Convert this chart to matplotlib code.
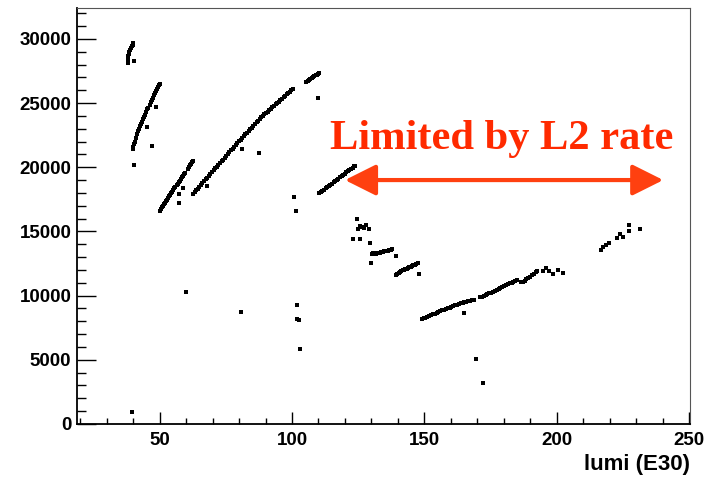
import numpy as np
import matplotlib.pyplot as plt
from matplotlib.ticker import MultipleLocator

# Data: L1 rate vs lumi (E30), one list pair per fill segment
xA = [38.0, 38.1, 38.2, 38.4, 38.6, 38.9, 39.2, 39.5, 39.8, 40.1]
yA = [28150, 28400, 28650, 28850, 29000, 29150, 29300, 29450, 29550, 29650]

xB = [39.8, 40.0, 40.3, 40.6, 41.0, 41.4, 41.8, 42.2, 42.6, 43.0, 43.4, 43.8, 44.2, 44.6,
      45.0, 45.4, 45.8, 46.2, 46.6, 47.0, 47.4, 47.8, 48.2, 48.6, 49.0, 49.4, 49.8, 50.1]
yB = [21450, 21600, 21800, 22000, 22300, 22550, 22800, 23000, 23200, 23400, 23550, 23750, 23950, 24100,
      24300, 24500, 24650, 24850, 25050, 25250, 25400, 25600, 25800, 25950, 26100, 26250, 26400, 26500]

xC = [50.0, 50.4, 50.8, 51.2, 51.6, 52.0, 52.4, 52.8, 53.2, 53.6, 54.0, 54.4, 54.8, 55.2, 55.6, 56.0,
      56.4, 56.8, 57.2, 57.6, 58.0, 58.4, 58.8, 59.2, 59.6, 60.6, 61.0, 61.4, 61.8, 62.2, 62.6]
yC = [16620, 16740, 16870, 16990, 17100, 17240, 17360, 17480, 17600, 17730, 17850, 17980, 18100, 18230, 18350, 18470,
      18600, 18720, 18850, 18960, 19100, 19210, 19330, 19460, 19580, 19890, 20020, 20140, 20260, 20390, 20510]

xD = [62.6, 63.2, 63.8, 64.4, 65.0, 65.6, 66.2, 66.8, 67.4, 68.0, 68.6, 69.2, 69.8, 70.4, 71.0, 71.6,
      72.2, 72.8, 73.4, 74.0, 74.6, 75.2, 75.8, 76.4, 77.0, 77.6, 78.2, 78.8, 79.4, 80.0, 80.6, 81.2,
      81.8, 82.4, 83.0, 83.6, 84.2, 84.8, 85.4, 86.0, 86.6, 87.2, 87.8, 88.4, 89.0, 89.6, 90.2, 90.8,
      91.4, 92.0, 92.6, 93.2, 93.8, 94.4, 95.0, 95.6, 96.2, 96.8, 97.4, 98.0, 98.6, 99.2, 99.8, 100.4]
yD = [17920, 18060, 18200, 18340, 18480, 18630, 18770, 18910, 19050, 19190, 19330, 19470, 19620, 19760, 19900, 20040,
      20180, 20320, 20460, 20600, 20750, 20890, 21030, 21170, 21310, 21450, 21590, 21730, 21870, 22010, 22150, 22280,
      22420, 22550, 22690, 22820, 22960, 23090, 23230, 23360, 23500, 23630, 23770, 23890, 24000, 24110, 24220, 24330,
      24440, 24560, 24670, 24780, 24890, 25000, 25110, 25220, 25330, 25440, 25560, 25670, 25780, 25890, 26000, 26110]

xE = [105.4, 105.9, 106.4, 106.9, 107.4, 107.9, 108.4, 108.9, 109.4, 109.9, 110.3]
yE = [26620, 26700, 26780, 26850, 26930, 27000, 27080, 27150, 27220, 27280, 27320]

xF = [110.3, 110.9, 111.5, 112.1, 112.7, 113.3, 113.9, 114.5, 115.1, 115.7, 116.3, 116.9,
      117.5, 118.1, 118.7, 119.3, 119.9, 120.5, 121.1, 121.7, 122.3, 122.9, 123.5, 123.9]
yF = [17970, 18060, 18160, 18250, 18350, 18450, 18540, 18640, 18730, 18830, 18920, 19020,
      19110, 19210, 19300, 19400, 19500, 19590, 19690, 19780, 19880, 19970, 20070, 20120]

xG = [124.5, 125.1, 125.8, 126.4, 127.1, 128.0, 128.9, 123.2, 125.7, 129.5, 130.5, 129.8,
      130.1, 130.7, 131.3, 131.9, 132.5, 133.1, 133.7, 134.3, 134.9, 135.5, 136.1, 136.7, 137.3, 137.9, 139.3]
yG = [15970, 15200, 15450, 15370, 15300, 15500, 15170, 14440, 14440, 14120, 13300, 12520,
      13240, 13320, 13280, 13240, 13300, 13350, 13380, 13400, 13450, 13480, 13510, 13560, 13590, 13610, 13090]

xH = [139.3, 139.8, 140.3, 140.8, 141.3, 141.8, 142.3, 142.8, 143.3, 143.8, 144.3, 144.8,
      145.3, 145.8, 146.3, 146.8, 147.5, 148.1]
yH = [11610, 11700, 11780, 11840, 11900, 11960, 12010, 12060, 12110, 12160, 12210, 12260,
      12300, 12350, 12400, 12440, 12520, 11690]

xI = [149.0, 149.7, 150.4, 151.1, 151.8, 152.5, 153.2, 153.9, 154.6, 155.3, 156.0, 156.7, 157.4, 158.1,
      158.8, 159.5, 160.2, 160.9, 161.6, 162.3, 163.0, 163.7, 164.4, 165.1, 165.8, 166.5, 167.2, 167.9,
      168.6, 171.0, 171.7, 172.4, 173.1, 173.8, 174.5, 175.2, 175.9, 176.6, 177.3, 178.0, 178.7, 179.4,
      180.1, 180.8, 181.5, 182.2, 182.9, 183.6, 184.3, 184.9, 186.4, 187.1, 187.8, 188.5, 189.2, 189.9,
      190.6, 191.3, 192.0, 192.4, 194.7, 195.9, 197.2, 198.7, 200.6, 202.2]
yI = [8160, 8220, 8280, 8340, 8400, 8470, 8530, 8590, 8650, 8710, 8770, 8840, 8900, 8960,
      9010, 9070, 9130, 9190, 9240, 9300, 9360, 9410, 9450, 9490, 9520, 9560, 9600, 9630,
      9670, 9860, 9920, 9980, 10050, 10110, 10180, 10240, 10310, 10370, 10440, 10510, 10580, 10660,
      10730, 10800, 10880, 10950, 11020, 11090, 11160, 11220, 11050, 11090, 11150, 11260, 11370, 11480,
      11600, 11720, 11830, 11880, 11940, 12130, 11940, 11690, 12000, 11740]

xJ = [216.6, 217.5, 218.6, 219.8, 222.6, 223.9, 225.1, 227.1, 227.4, 231.4]
yJ = [13560, 13750, 13930, 14120, 14510, 14770, 14590, 15040, 15480, 15190]

# isolated points
xOut = [40.3, 48.6, 45.2, 47.1, 40.3, 58.9, 57.4, 57.4, 67.9, 81.1, 87.7, 100.6, 101.6, 109.8,
        60.0, 80.7, 102.0, 102.0, 102.7, 103.1, 39.6, 165.1, 169.5, 172.3]
yOut = [28300, 24720, 23110, 21660, 20200, 18360, 17890, 17190, 18540, 21400, 21140, 17710, 16620, 25420,
        10280, 8730, 9270, 8200, 8130, 5820, 910, 8620, 5060, 3220]

fig = plt.figure(figsize=(7.06, 4.8), dpi=100)
ax = fig.add_axes([0.109, 0.1167, 0.868, 0.8666])

for xs, ys in [(xA, yA), (xB, yB), (xC, yC), (xD, yD), (xE, yE), (xF, yF),
               (xG, yG), (xH, yH), (xI, yI), (xJ, yJ), (xOut, yOut)]:
    ax.plot(xs, ys, 's', color='black', markersize=2.5, markeredgewidth=0)

ax.set_xlim(18.8, 250.2)
ax.set_ylim(0, 32400)

ax.xaxis.set_major_locator(MultipleLocator(50))
ax.xaxis.set_minor_locator(MultipleLocator(10))
ax.yaxis.set_major_locator(MultipleLocator(5000))
ax.yaxis.set_minor_locator(MultipleLocator(1000))
ax.tick_params(axis='both', which='both', direction='in', top=False, right=False, width=1)
ax.tick_params(axis='y', which='major', length=14, pad=4)
ax.tick_params(axis='y', which='minor', length=6.5)
ax.tick_params(axis='x', which='major', length=8.6, pad=6)
ax.tick_params(axis='x', which='minor', length=4.3)
for lab in ax.get_xticklabels() + ax.get_yticklabels():
    lab.set_fontfamily('Liberation Sans')
    lab.set_fontweight('bold')
    lab.set_fontsize(13.5)

for s in ['left', 'bottom']:
    ax.spines[s].set_linewidth(1.3)
for s in ['top', 'right']:
    ax.spines[s].set_linewidth(0.8)
    ax.spines[s].set_color('#555555')

ax.text(1.0, -0.072, 'lumi (E30)', transform=ax.transAxes, ha='right', va='top',
        fontfamily='Liberation Sans', fontweight='bold', fontsize=16)

# annotation
ax.annotate('', xy=(120.0, 19000), xytext=(240.2, 19000),
            arrowprops=dict(arrowstyle='<|-|>,head_length=1.9,head_width=0.95',
                            color='#ff4010', lw=3, shrinkA=0, shrinkB=0))
ax.text(179.2, 21450, 'Limited by L2 rate', ha='center', va='baseline',
        fontfamily='Liberation Serif', fontweight='bold', fontsize=30.6, color='#ff2a00')

fig.savefig('out.png', dpi=100)
